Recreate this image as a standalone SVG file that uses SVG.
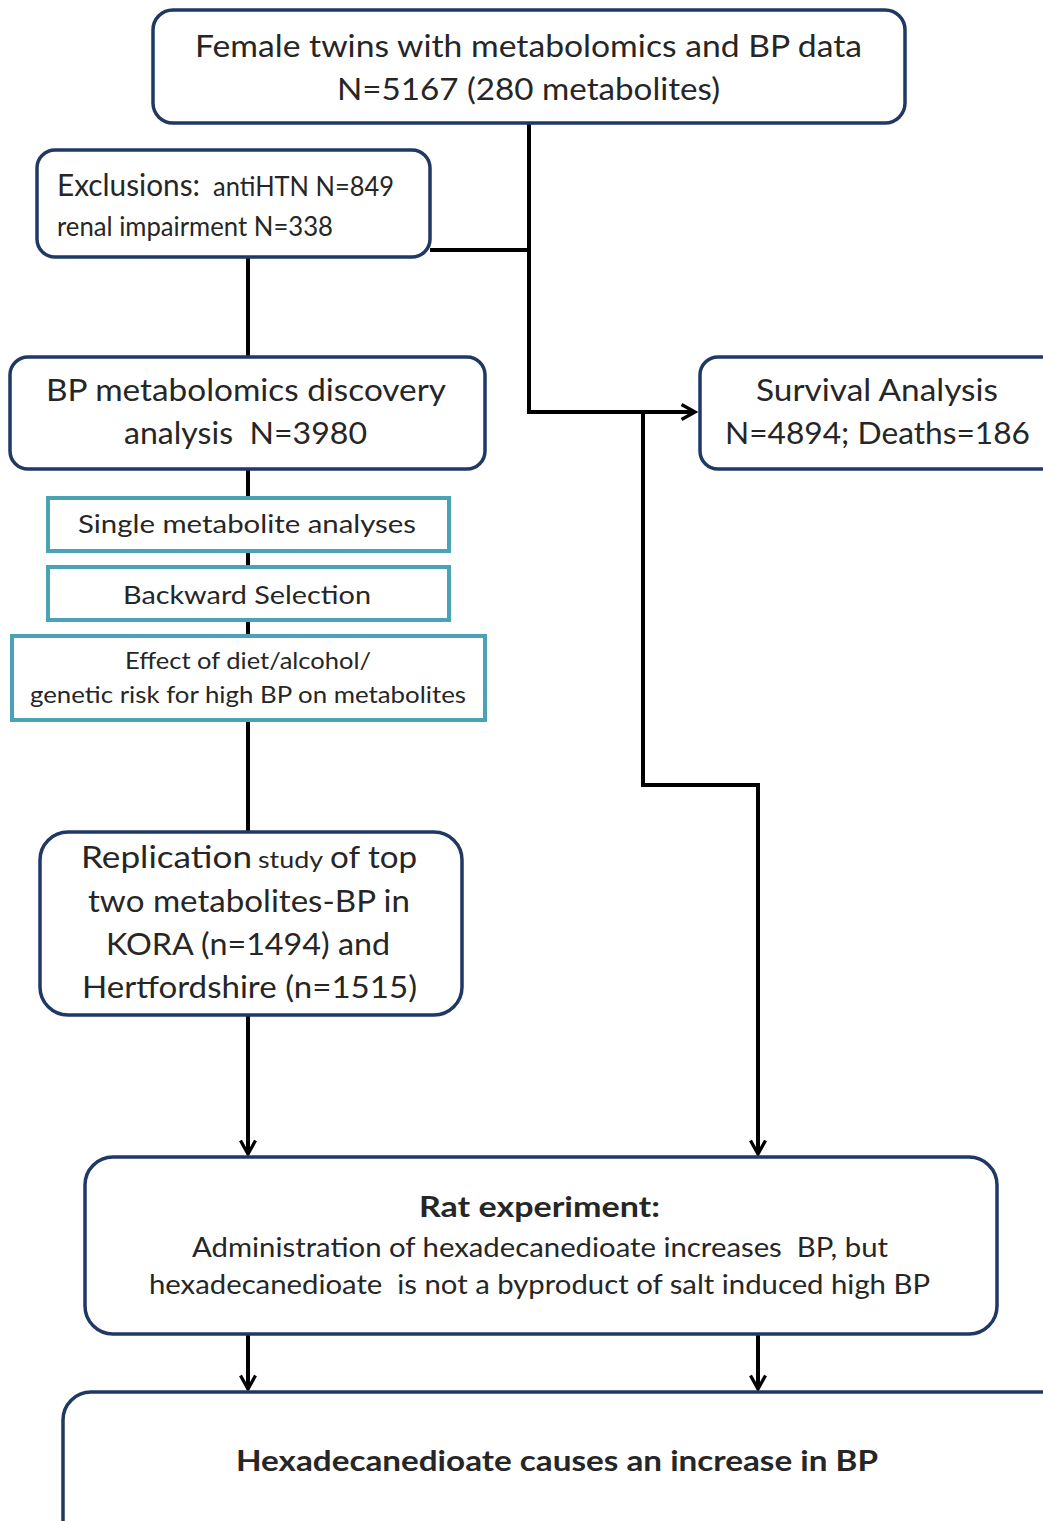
<svg xmlns="http://www.w3.org/2000/svg" width="1043" height="1521" viewBox="0 0 1043 1521">
<style>
.box{fill:#fff;stroke:#1f3864;stroke-width:3.5}
.tbox{fill:#fff;stroke:#4aa3b5;stroke-width:4}
.t{font-family:Lato,"Open Sans","Liberation Sans",sans-serif;fill:#262626}
.b{font-weight:bold}
.c{fill:none;stroke:#000;stroke-width:4}
</style>
<defs>
<marker id="arr" viewBox="0 0 12 12" refX="10" refY="6" markerWidth="4.5" markerHeight="4.5" orient="auto" markerUnits="strokeWidth">
<path d="M1,1 L10,6 L1,11" fill="none" stroke="#000" stroke-width="2.2"/>
</marker>
</defs>
<rect width="1043" height="1521" fill="#fff"/>
<g id="connectors">
<path class="c" d="M529,123 V412 H695" marker-end="url(#arr)"/>
<path class="c" d="M430,250 H529"/>
<path class="c" d="M248,257 V357"/>
<path class="c" d="M248,469 V832"/>
<path class="c" d="M643,412 V785 H758 V1154" marker-end="url(#arr)"/>
<path class="c" d="M248,1015 V1154" marker-end="url(#arr)"/>
<path class="c" d="M248,1334 V1389" marker-end="url(#arr)"/>
<path class="c" d="M758,1334 V1389" marker-end="url(#arr)"/>
</g>
<g id="top">
<rect class="box" x="153" y="10" width="752" height="113" rx="20"/>
<text class="t" x="195" y="57" font-size="30" textLength="667" lengthAdjust="spacingAndGlyphs">Female twins with metabolomics and BP data</text>
<text class="t" x="337" y="100" font-size="30" textLength="383" lengthAdjust="spacingAndGlyphs">N=5167 (280 metabolites)</text>
</g>
<g id="exclusions">
<rect class="box" x="37" y="150" width="393" height="107" rx="18"/>
<text class="t" x="57" y="196" font-size="30" textLength="143" lengthAdjust="spacingAndGlyphs">Exclusions:</text>
<text class="t" x="213" y="196" font-size="27" textLength="181" lengthAdjust="spacingAndGlyphs">antiHTN N=849</text>
<text class="t" x="57" y="236" font-size="27" textLength="276" lengthAdjust="spacingAndGlyphs">renal impairment N=338</text>
</g>
<g id="discovery">
<rect class="box" x="10" y="357" width="475" height="112" rx="18"/>
<text class="t" x="46" y="401" font-size="31" textLength="400" lengthAdjust="spacingAndGlyphs">BP metabolomics discovery</text>
<text class="t" x="124" y="444" font-size="31" textLength="243" lengthAdjust="spacingAndGlyphs" xml:space="preserve">analysis  N=3980</text>
</g>
<g id="survival">
<rect class="box" x="700" y="357" width="360" height="112" rx="18"/>
<text class="t" x="756" y="401" font-size="31" textLength="242" lengthAdjust="spacingAndGlyphs">Survival Analysis</text>
<text class="t" x="725" y="444" font-size="31" textLength="305" lengthAdjust="spacingAndGlyphs">N=4894; Deaths=186</text>
</g>
<g id="single">
<rect class="tbox" x="48" y="498" width="401" height="53"/>
<text class="t" x="78" y="533" font-size="25" textLength="338" lengthAdjust="spacingAndGlyphs">Single metabolite analyses</text>
</g>
<g id="backward">
<rect class="tbox" x="48" y="567" width="401" height="53"/>
<text class="t" x="123" y="604" font-size="25" textLength="248" lengthAdjust="spacingAndGlyphs">Backward Selection</text>
</g>
<g id="effect">
<rect class="tbox" x="12" y="636" width="473" height="84"/>
<text class="t" x="125" y="669" font-size="23" textLength="246" lengthAdjust="spacingAndGlyphs">Effect of diet/alcohol/</text>
<text class="t" x="30" y="703" font-size="23" textLength="436" lengthAdjust="spacingAndGlyphs">genetic risk for high BP on metabolites</text>
</g>
<g id="replication">
<rect class="box" x="40" y="832" width="422" height="183" rx="28"/>
<text class="t" x="81" y="868" font-size="31" textLength="171" lengthAdjust="spacingAndGlyphs">Replication</text>
<text class="t" x="258" y="868" font-size="24" textLength="65" lengthAdjust="spacingAndGlyphs">study</text>
<text class="t" x="330" y="868" font-size="31" textLength="87" lengthAdjust="spacingAndGlyphs">of top</text>
<text class="t" x="88" y="912" font-size="31" textLength="322" lengthAdjust="spacingAndGlyphs">two metabolites-BP in</text>
<text class="t" x="106" y="955" font-size="31" textLength="284" lengthAdjust="spacingAndGlyphs">KORA (n=1494) and</text>
<text class="t" x="82" y="998" font-size="31" textLength="335" lengthAdjust="spacingAndGlyphs">Hertfordshire (n=1515)</text>
</g>
<g id="rat">
<rect class="box" x="85" y="1157" width="912" height="177" rx="28"/>
<text class="t b" x="419" y="1217" font-size="29" textLength="241" lengthAdjust="spacingAndGlyphs">Rat experiment:</text>
<text class="t" x="192" y="1257" font-size="26" textLength="696" lengthAdjust="spacingAndGlyphs" xml:space="preserve">Administration of hexadecanedioate increases  BP, but</text>
<text class="t" x="149" y="1294" font-size="26" textLength="781" lengthAdjust="spacingAndGlyphs" xml:space="preserve">hexadecanedioate  is not a byproduct of salt induced high BP</text>
</g>
<g id="conclusion">
<rect class="box" x="63" y="1392" width="1010" height="160" rx="28"/>
<text class="t b" x="236" y="1471" font-size="29" textLength="642" lengthAdjust="spacingAndGlyphs">Hexadecanedioate causes an increase in BP</text>
</g>
</svg>
